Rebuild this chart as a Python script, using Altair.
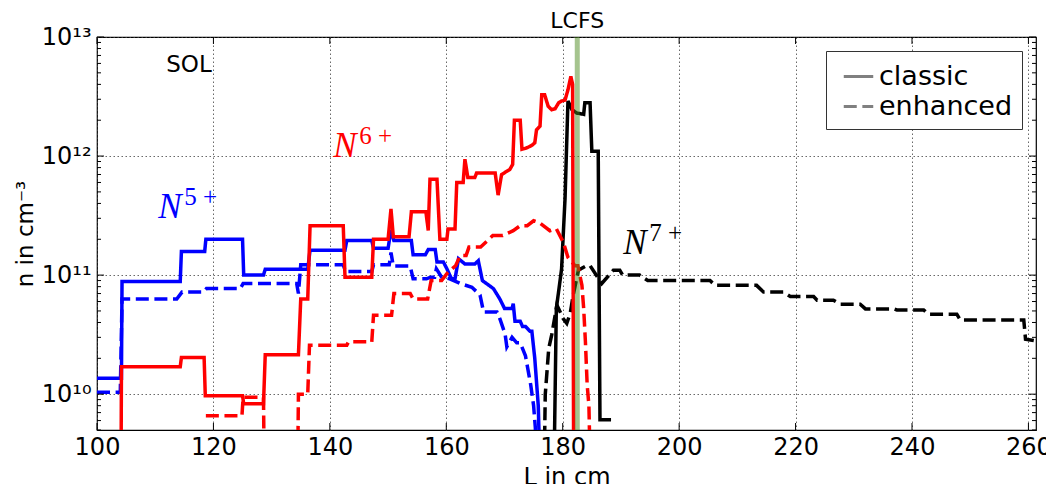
import altair as alt
import pandas as pd

# ---------------- data ----------------
# (L in cm, n in cm^-3)
n5_classic = [(100, 1.36e10), (104.2, 1.36e10), (104.3, 8.85e10), (114.3, 8.85e10), (114.5, 1.58e11),
              (118.5, 1.58e11), (118.7, 2.0e11), (125.0, 2.0e11), (125.2, 1.0e11), (128.6, 1.0e11),
              (128.9, 1.12e11), (136.2, 1.12e11), (136.6, 1.62e11), (142.6, 1.62e11), (142.9, 1.95e11),
              (147.2, 1.95e11), (147.5, 1.68e11), (150.0, 1.68e11), (150.5, 2.4e11), (151.0, 1.95e11),
              (154.0, 1.95e11), (154.3, 1.48e11), (156.4, 1.48e11), (156.9, 1.64e11), (158.1, 1.64e11),
              (158.4, 1.29e11), (159.5, 1.29e11), (160.1, 1.13e11), (160.9, 9.3e10), (161.5, 9.3e10),
              (162.1, 1.37e11), (163.2, 1.24e11), (164.9, 1.24e11), (165.5, 1.32e11), (166.2, 9.0e10),
              (168.1, 7.7e10), (169.2, 6.3e10), (170.0, 5.25e10), (171.3, 5.25e10), (171.5, 5.75e10),
              (171.8, 4.1e10), (172.7, 4.1e10), (173.1, 3.7e10), (173.6, 3.7e10), (174.4, 3.37e10),
              (174.7, 3.37e10), (175.2, 2.0e10), (175.8, 8.0e9), (176.3, 1e9)]

n5_enhanced = [(100, 1.04e10), (104.0, 1.04e10), (104.3, 6.3e10), (113.7, 6.3e10), (114.6, 7.2e10),
               (118.3, 7.2e10), (118.8, 7.7e10), (124.6, 7.7e10), (125.1, 8.5e10), (134.3, 8.5e10),
               (134.6, 7.0e10), (135.0, 1.22e11), (142.3, 1.22e11), (142.7, 1.07e11), (147.2, 1.07e11),
               (147.5, 1.22e11), (150.2, 1.22e11), (150.5, 1.55e11), (150.9, 1.19e11), (153.8, 1.19e11),
               (154.3, 9.3e10), (156.6, 9.3e10), (157.3, 9.6e10), (158.0, 9.6e10), (158.3, 1.13e11),
               (159.2, 9.6e10), (160.6, 9.3e10), (162.4, 8.5e10), (164.4, 7.9e10), (165.8, 6.8e10),
               (166.4, 4.9e10), (168.7, 4.9e10), (169.2, 4.3e10), (170.1, 3.2e10), (170.4, 2.5e10),
               (171.3, 3.0e10), (172.1, 2.7e10), (172.7, 2.7e10), (173.6, 2.1e10), (174.5, 1.2e10),
               (175.0, 8.0e9), (175.3, 5.2e9), (175.7, 1e9)]

n6_classic = [(104.1, 1e9), (104.2, 1.7e10), (114.3, 1.7e10), (114.5, 2.03e10), (118.4, 2.03e10),
              (118.6, 9.7e9), (125.0, 9.7e9), (125.2, 8.3e9), (128.6, 8.3e9), (128.9, 2.14e10),
              (134.6, 2.14e10), (135.0, 6.3e10), (136.2, 6.3e10), (136.6, 2.6e11), (142.3, 2.6e11),
              (142.6, 9.6e10), (147.2, 9.6e10), (147.5, 2.0e11), (150.0, 2.0e11), (150.5, 3.6e11),
              (150.9, 2.1e11), (153.6, 2.1e11), (154.0, 3.4e11), (156.5, 3.4e11), (156.9, 2.37e11),
              (157.2, 6.4e11), (158.4, 6.4e11), (158.9, 2.0e11), (160.1, 2.0e11), (160.3, 2.44e11),
              (161.5, 2.44e11), (161.8, 6.0e11), (162.9, 6.0e11), (163.2, 9.4e11), (163.7, 6.6e11),
              (164.9, 6.6e11), (165.2, 7.2e11), (168.4, 7.2e11), (168.9, 4.7e11), (169.5, 7.0e11),
              (170.9, 7.7e11), (171.4, 8.5e11), (171.7, 2.0e12), (172.7, 2.0e12), (173.0, 1.14e12),
              (173.8, 1.17e12), (174.7, 1.23e12), (175.2, 1.29e12), (175.5, 1.66e12), (176.1, 1.78e12),
              (176.4, 3.27e12), (176.9, 3.27e12), (177.5, 2.62e12), (178.1, 2.45e12), (178.7, 2.5e12),
              (179.3, 2.8e12), (179.8, 2.9e12), (180.4, 2.95e12), (180.9, 3.6e12), (181.4, 4.66e12),
              (181.7, 4.0e12), (181.9, 1e9)]

n6_enhanced = [(118.7, 6.6e9), (124.9, 6.6e9), (125.1, 9.4e9), (128.6, 9.4e9), (128.8, 1e9),
               (134.4, 1e9), (134.6, 1.0e10), (136.2, 1.0e10), (136.5, 2.57e10), (142.9, 2.57e10),
               (143.2, 2.75e10), (147.2, 2.75e10), (147.5, 4.6e10), (150.6, 4.6e10), (151.0, 7.0e10),
               (153.8, 7.0e10), (154.3, 6.3e10), (156.8, 6.3e10), (157.4, 9.0e10), (159.2, 9.0e10),
               (160.1, 1.03e11), (161.6, 1.2e11), (162.4, 1.46e11), (163.4, 1.46e11), (163.9, 1.72e11),
               (165.9, 1.72e11), (168.0, 2.15e11), (169.7, 2.15e11), (171.5, 2.36e11), (172.7, 2.6e11),
               (173.9, 2.6e11), (175.0, 2.86e11), (176.0, 2.75e11), (177.8, 2.36e11), (178.9, 2.45e11),
               (180.1, 1.89e11), (180.9, 1.41e11), (182.1, 1.2e11), (182.6, 1.2e11), (183.3, 8.2e10),
               (183.6, 5.25e10), (183.9, 2.75e10), (184.2, 1.2e10), (184.5, 8.0e9), (184.9, 1e9)]

n7_classic = [(178.4, 1e9), (178.9, 5.2e10), (179.8, 1.12e11), (180.4, 4.4e11), (180.9, 2.9e12),
              (181.6, 2.45e12), (182.4, 2.3e12), (183.6, 2.24e12), (183.8, 2.8e12), (184.7, 2.8e12),
              (185.0, 1.1e12), (186.1, 1.1e12), (186.4, 6.1e9), (188.3, 6.1e9)]

n7_enhanced = [(176.7, 1e9), (177.0, 9.9e9), (177.6, 2.43e10), (178.1, 3.13e10), (179.0, 5.6e10),
               (180.1, 4.3e10), (180.7, 3.93e10), (181.3, 4.8e10), (181.8, 6.8e10), (182.7, 1.1e11),
               (184.1, 1.2e11), (184.7, 1.2e11), (186.7, 8.5e10), (188.7, 1.1e11), (189.8, 1.1e11),
               (190.3, 1.0e11), (193.2, 1.0e11), (194.6, 9.0e10), (205.3, 9.0e10), (206.2, 8.2e10),
               (213.3, 8.2e10), (214.5, 7.2e10), (217.9, 7.2e10), (219.1, 6.6e10), (223.1, 6.6e10),
               (223.7, 6.15e10), (226.5, 6.15e10), (227.7, 5.7e10), (231.1, 5.7e10), (232.0, 5.2e10),
               (236.9, 5.2e10), (237.4, 5.1e10), (242.0, 5.1e10), (242.8, 4.7e10), (247.7, 4.7e10),
               (248.3, 4.2e10), (259.2, 4.2e10), (259.5, 2.9e10), (261.5, 2.8e10)]

ions = ["N5+", "N7+", "N6+"]
ion_colors = ["#0000ff", "#000000", "#ff0000"]
modes = ["classic", "enhanced"]

x_ticks = [100, 120, 140, 160, 180, 200, 220, 240, 260]
y_major = [1e10, 1e11, 1e12, 1e13]
y_major_labels = ["10¹⁰", "10¹¹", "10¹²", "10¹³"]
y_minor = [k * 10.0 ** e for e in (9, 10, 11, 12) for k in range(2, 10) if 5e9 <= k * 10.0 ** e < 1e13]

lcfs_L = [182.5]
lcfs_label = ["LCFS"]
sol_L, sol_n, sol_text = [115.8], [5.8e12], ["SOL"]

ion_label_ion = ["N5+", "N6+", "N7+"]
ion_label_L = [110.5, 140.6, 190.4]
ion_label_n = [3.02e11, 9.9e11, 1.51e11]
ion_label_main = ["N", "N", "N"]
ion_label_sup = ["5 +", "6 +", "7 +"]

# ---------------- table ----------------
series = [("N5+", "classic", n5_classic), ("N5+", "enhanced", n5_enhanced),
          ("N7+", "classic", n7_classic), ("N7+", "enhanced", n7_enhanced),
          ("N6+", "classic", n6_classic), ("N6+", "enhanced", n6_enhanced)]
rows = []
for ion, mode, pts in series:
    for i, (L, n) in enumerate(pts):
        rows.append({"L": L, "n": n, "ion": ion, "mode": mode, "key": ion + " " + mode, "i": i})
df = pd.DataFrame(rows)

W, H = 939, 393
FONT = "DejaVu Sans"
x_scale = alt.Scale(domain=[100, 261.3], nice=False, zero=False)
y_scale = alt.Scale(type="log", domain=[5e9, 1e13], nice=False)
color_scale = alt.Scale(domain=ions, range=ion_colors)

label_expr = ""
for v, lab in zip(y_major[:-1], y_major_labels[:-1]):
    label_expr += f"datum.value < {v * 3:.0e} ? '{lab}' : "
label_expr += f"'{y_major_labels[-1]}'"

lines = alt.Chart(df).mark_line(strokeWidth=3.5, clip=True).encode(
    x=alt.X("L:Q", scale=x_scale,
            axis=alt.Axis(values=x_ticks, title="L in cm", format="d", labelFontSize=24,
                          titleFontSize=24, titleFontWeight="normal", labelPadding=5,
                          titlePadding=6, labelFlush=False)),
    y=alt.Y("n:Q", scale=y_scale,
            axis=alt.Axis(values=y_major, labelExpr=label_expr, title="n in cm⁻³",
                          labelFontSize=24, titleFontSize=23, titleFontWeight="normal",
                          labelPadding=6, titlePadding=4, labelFlush=False)),
    color=alt.Color("ion:N", scale=color_scale, legend=None),
    strokeDash=alt.StrokeDash("mode:N", scale=alt.Scale(domain=modes, range=[[1, 0], [13, 5.6]]),
                              legend=alt.Legend(title=None, orient="top-right", offset=14,
                                                fillColor="white", strokeColor="#333",
                                                padding=9, labelFontSize=27, labelFont=FONT,
                                                symbolType="stroke", symbolStrokeColor="gray",
                                                symbolStrokeWidth=3, symbolSize=870,
                                                symbolOffset=7, rowPadding=0, labelOffset=4,
                                                cornerRadius=0)),
    detail="key:N",
    order="i:Q",
)

# inward ticks
xt = pd.DataFrame({"L": x_ticks})
ymaj = pd.DataFrame({"n": y_major})
ymin = pd.DataFrame({"n": y_minor})
tick_style = dict(color="black", strokeWidth=1)
X = alt.X("L:Q", scale=x_scale)
Y = alt.Y("n:Q", scale=y_scale)
ticks = [
    alt.Chart(xt).mark_rule(**tick_style).encode(x=X, y=alt.value(H), y2=alt.value(H - 7)),
    alt.Chart(xt).mark_rule(**tick_style).encode(x=X, y=alt.value(0), y2=alt.value(7)),
    alt.Chart(ymaj).mark_rule(**tick_style).encode(y=Y, x=alt.value(0), x2=alt.value(7)),
    alt.Chart(ymaj).mark_rule(**tick_style).encode(y=Y, x=alt.value(W - 7), x2=alt.value(W)),
    alt.Chart(ymin).mark_rule(**tick_style).encode(y=Y, x=alt.value(0), x2=alt.value(4)),
    alt.Chart(ymin).mark_rule(**tick_style).encode(y=Y, x=alt.value(W - 4), x2=alt.value(W)),
]

lcfs_df = pd.DataFrame({"L": lcfs_L, "text": lcfs_label})
lcfs_rule = alt.Chart(lcfs_df).mark_rule(color="#4b8a1e", opacity=0.5, strokeWidth=5).encode(x=X)
lcfs_text = alt.Chart(lcfs_df).mark_text(fontSize=22, font=FONT, baseline="middle", align="center",
                                         clip=False, color="black").encode(
    x=X, y=alt.value(-16), text="text:N")

sol_df = pd.DataFrame({"L": sol_L, "n": sol_n, "text": sol_text})
sol = alt.Chart(sol_df).mark_text(fontSize=23, font=FONT, baseline="middle", align="center",
                                  color="black").encode(x=X, y=Y, text="text:N")

lab_df = pd.DataFrame({"ion": ion_label_ion, "L": ion_label_L, "n": ion_label_n,
                       "main": ion_label_main, "sup": ion_label_sup})
lab_main = alt.Chart(lab_df).mark_text(fontSize=35, font="Liberation Serif", fontStyle="italic",
                                       align="left", baseline="alphabetic").encode(
    x=X, y=Y, text="main:N", color=alt.Color("ion:N", scale=color_scale, legend=None))
lab_sup = alt.Chart(lab_df).mark_text(fontSize=25, font="Liberation Serif", align="left",
                                      baseline="alphabetic", dx=26, dy=-13).encode(
    x=X, y=Y, text="sup:N", color=alt.Color("ion:N", scale=color_scale, legend=None))

chart = alt.layer(lines, *ticks, lcfs_rule, lcfs_text, sol, lab_main, lab_sup).properties(
    width=W, height=H,
    autosize=alt.AutoSizeParams(type="none"),
    padding={"left": 89, "top": 29, "right": 10, "bottom": 60},
).configure_view(stroke="black", strokeWidth=1.2).configure_axis(
    labelFont=FONT, titleFont=FONT, labelColor="black", titleColor="black",
    ticks=False, domain=False, grid=True, gridColor="#444", gridDash=[1.5, 2.5],
    gridWidth=1, gridOpacity=0.8,
).configure_legend(labelColor="black")

chart.save("out.html", embed_options={"renderer": "svg", "actions": False})
